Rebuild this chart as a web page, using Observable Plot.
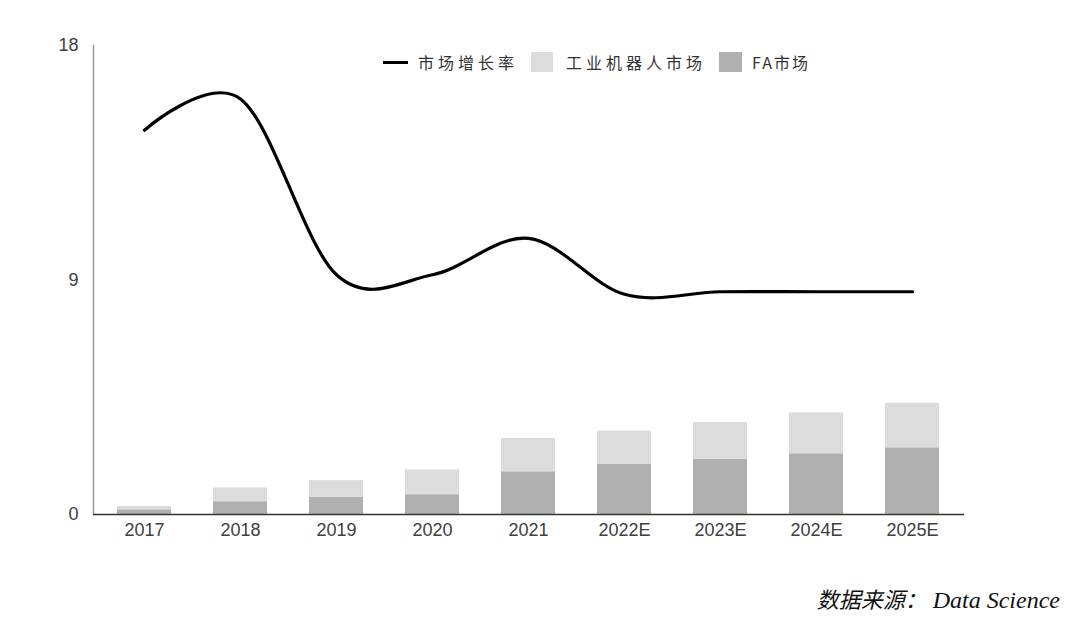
<!DOCTYPE html>
<html>
<head>
<meta charset="utf-8">
<script src="https://cdn.jsdelivr.net/npm/d3@7"></script>
<script src="https://cdn.jsdelivr.net/npm/@observablehq/plot@0.6"></script>
<style>
  body { margin: 0; background: #fff; }
  #wrap { position: relative; width: 1080px; height: 629px; overflow: hidden; }
  .leg { position: absolute; font-family: "Noto Sans CJK SC", sans-serif; font-size: 16px; color: #333; letter-spacing: 4px; line-height: 20px; white-space: nowrap; }
  .sw { position: absolute; }
  #source { position: absolute; right: 20px; top: 582px; font-family: "Liberation Serif", "DejaVu Serif", serif; font-style: italic; font-size: 24px; color: #111; white-space: nowrap; }
  #source .cn { font-family: "Noto Sans CJK SC", sans-serif; font-size: 22px; font-weight: 400; }
</style>
</head>
<body>
<div id="wrap">
  <div id="chart"></div>
  <div class="sw" style="left:383px; top:61px; width:25px; height:3px; background:#000;"></div>
  <div class="leg" style="left:418px; top:52px;">市场增长率</div>
  <div class="sw" style="left:531px; top:52px; width:22px; height:20px; background:#dcdcdc;"></div>
  <div class="leg" style="left:566px; top:52px;">工业机器人市场</div>
  <div class="sw" style="left:719px; top:52px; width:23px; height:20px; background:#b0b0b0;"></div>
  <div class="leg" style="left:752px; top:52px; letter-spacing:2px;">FA市场</div>
  <div id="source"><span class="cn">数据来源：</span> Data Science</div>
</div>
<script>
const years = ["2017", "2018", "2019", "2020", "2021", "2022E", "2023E", "2024E", "2025E"];
const faMarket = [0.18, 0.49, 0.66, 0.76, 1.64, 1.92, 2.11, 2.33, 2.56];
const robotMarket = [0.13, 0.53, 0.64, 0.95, 1.28, 1.28, 1.42, 1.57, 1.71];
const growthRate = [14.75, 15.95, 9.2, 9.2, 10.6, 8.45, 8.55, 8.55, 8.55];
const yTicks = [0, 9, 18];

const seriesOrder = ["FA市场", "工业机器人市场"];
const barData = [];
years.forEach((y, i) => {
  barData.push({ year: y, series: "FA市场", value: faMarket[i] });
  barData.push({ year: y, series: "工业机器人市场", value: robotMarket[i] });
});
const lineData = years.map((y, i) => ({ year: y, value: growthRate[i] }));

const chart = Plot.plot({
  width: 1080,
  height: 560,
  marginLeft: 93,
  marginRight: 116,
  marginTop: 45,
  marginBottom: 46,
  style: { fontFamily: "'Liberation Sans', Arial, sans-serif", fontSize: "18px", color: "#404040", background: "transparent" },
  x: { domain: years, paddingInner: 0.435, paddingOuter: 0.2175, label: null },
  y: { domain: [0, 18], label: null },
  color: { domain: seriesOrder, range: ["#b0b0b0", "#dcdcdc"] },
  marks: [
    Plot.barY(barData, Plot.stackY({ x: "year", y: "value", fill: "series", order: seriesOrder })),
    Plot.frame({ anchor: "left", stroke: "#9a9a9a", strokeWidth: 1.5 }),
    Plot.ruleY([0], { stroke: "#333", strokeWidth: 1.5 }),
    Plot.lineY(lineData, { x: "year", y: "value", stroke: "#000", strokeWidth: 3.2, curve: "cardinal" }),
    Plot.axisX({ tickSize: 0, tickPadding: 9, fontSize: 18 }),
    Plot.axisY({ ticks: yTicks, tickSize: 0, tickPadding: 15, fontSize: 18 })
  ]
});
document.getElementById("chart").appendChild(chart);
</script>
</body>
</html>
